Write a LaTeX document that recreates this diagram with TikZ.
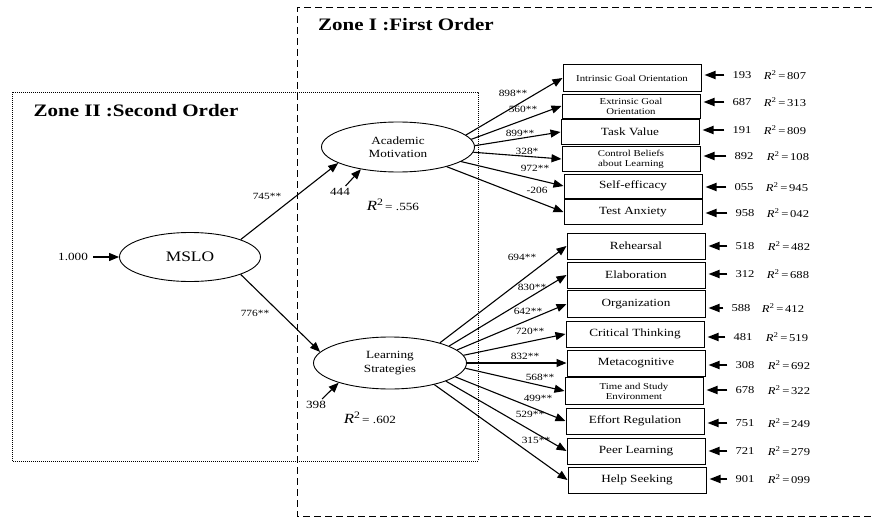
\documentclass[tikz,border=0pt]{standalone}
\usepackage{fontspec}
\setmainfont{Liberation Serif}[FakeStretch=1.2]
\usetikzlibrary{arrows.meta}
\usetikzlibrary{shapes.geometric}
\newcommand{\rsq}{\textit{R}\textsuperscript{2}}
\newcommand{\fsz}[1]{\fontsize{#1}{#1}\selectfont}

\begin{document}
\begin{tikzpicture}[x=1pt,y=-1pt,
  latent/.style={ellipse,draw,line width=0.9pt,minimum width=153pt,minimum height=50pt,inner sep=0pt,align=center,font=\fontsize{11}{13.5}\selectfont},
  obs/.style={rectangle,draw,line width=1pt,minimum width=138pt,minimum height=25pt,inner sep=0pt,align=center,font=\fsz{11}},
  twoline/.style={font=\fontsize{9}{10}\selectfont},
  pathlab/.style={font=\fsz{9.5},inner sep=0pt},
  errlab/.style={font=\fsz{10.5},inner sep=0pt},
  sem/.style={-{Triangle[length=10pt,width=8pt]},line width=1.1pt},
  errarrow/.style={-{Triangle[length=11pt,width=8pt]},line width=1.8pt,shorten <=8pt,shorten >=3pt},
  zone/.style={font=\bfseries\fsz{17.5},inner sep=0pt}]
\useasboundingbox (0,0) rectangle (872,519);

%zones
\draw[line width=1pt,dash pattern=on 7pt off 4pt] (872,8) -- (297,8) -- (297,516) -- (872,516);
\draw[line width=0.8pt,dash pattern=on 0.8pt off 1.2pt] (12,92) rectangle (478,461);
\node[zone] (zone1) at (406,25) {Zone I :First Order};
\node[zone] (zone2) at (136,111) {Zone II :Second Order};

%latent variables
\node[latent,minimum width=141pt,minimum height=49pt,font=\fsz{14.5}] (MSLO) at (190,257) {MSLO};
\node[latent] (AM) at (398,147) {Academic\\Motivation};
\node[latent,minimum height=52pt] (LS) at (390,363) {Learning\\Strategies};

\node[errlab,font=\fsz{11}] (e0) at (73,257) {1.000};
\draw[sem,shorten <=5pt] (e0) -- (MSLO);
\draw[sem] (MSLO.19) -- (AM.195);
\draw[sem] (MSLO.-19) -- (LS.171);
\node[pathlab] (m1) at (267,196) {745**};
\node[pathlab] (m2) at (255,313) {776**};

\node[errlab,font=\fsz{11}] (eAM) at (340,192) {444};
\draw[sem,shorten <=3pt] (eAM) -- (AM.211);
\node[inner sep=0pt] (rAM) at (393,205) {{\fsz{14}\rsq}\,{\fsz{11}= .556}};
\node[errlab,font=\fsz{11}] (eLS) at (316,405) {398};
\draw[sem,shorten <=3pt] (eLS) -- (LS.201);
\node[inner sep=0pt] (rLS) at (370,418) {{\fsz{14}\rsq}\,{\fsz{11}= .602}};

%first order: motivation
\node[obs,minimum height=27pt,twoline] (b1) at (632,78) {Intrinsic Goal Orientation};
\node[obs,minimum height=24pt,twoline] (b2) at (631,106) {Extrinsic Goal\\Orientation};
\node[obs] (b3) at (630,132) {Task Value};
\node[obs,twoline] (b4) at (631,159) {Control Beliefs\\about Learning};
\node[obs,minimum height=24pt] (b5) at (633,186) {Self-efficacy};
\node[obs] (b6) at (633,212) {Test Anxiety};

\draw[sem] (AM.10) -- (b1.west);
\draw[sem] (AM.6) -- (b2.west);
\draw[sem] (AM.1) -- (b3.west);
\draw[sem] (AM.-4) -- (b4.west);
\draw[sem] (AM.-13) -- (b5.west);
\draw[sem] (AM.-22) -- (b6.west);
\node[pathlab] (p1) at (513,93) {898**};
\node[pathlab] (p2) at (523,109) {560**};
\node[pathlab] (p3) at (520,133) {899**};
\node[pathlab] (p4) at (527,151) {328*};
\node[pathlab] (p5) at (535,168) {972**};
\node[pathlab] (p6) at (537,190) {-206};

%first order: strategies
\node[obs,minimum height=26pt] (b7) at (636,246) {Rehearsal};
\node[obs,minimum height=26pt] (b8) at (636,275) {Elaboration};
\node[obs,minimum height=27pt] (b9) at (636,304) {Organization};
\node[obs,minimum height=26pt] (b10) at (635,334) {Critical Thinking};
\node[obs,minimum height=26pt] (b11) at (636,363) {Metacognitive};
\node[obs,minimum height=27pt,twoline] (b12) at (634,391) {Time and Study\\Environment};
\node[obs,minimum height=26pt] (b13) at (635,421) {Effort Regulation};
\node[obs,minimum height=26pt] (b14) at (636,451) {Peer Learning};
\node[obs,minimum height=26pt] (b15) at (637,480) {Help Seeking};

\draw[sem] (LS.22) -- (b7.west);
\draw[sem] (LS.16) -- (b8.west);
\draw[sem] (LS.11) -- (b9.west);
\draw[sem] (LS.6) -- (b10.west);
\draw[sem] (LS.0) -- (b11.west);
\draw[sem] (LS.-4) -- (b12.west);
\draw[sem] (LS.-12) -- (b13.west);
\draw[sem] (LS.-18) -- (b14.west);
\draw[sem] (LS.-26) -- (b15.west);
\node[pathlab] (p7) at (522,257) {694**};
\node[pathlab] (p8) at (532,287) {830**};
\node[pathlab] (p9) at (528,311) {642**};
\node[pathlab] (p10) at (530,331) {720**};
\node[pathlab] (p11) at (525,356) {832**};
\node[pathlab] (p12) at (540,377) {568**};
\node[pathlab] (p13) at (538,398) {499**};
\node[pathlab] (p14) at (530,414) {529**};
\node[pathlab] (p15) at (536,440) {315**};

%errors and R2
\node[errlab] (v1) at (742,75) {193};  \node[errlab] (r1) at (785,75) {\rsq\,=\,807};
\node[errlab] (v2) at (742,102) {687}; \node[errlab] (r2) at (785,102) {\rsq\,=\,313};
\node[errlab] (v3) at (742,130) {191}; \node[errlab] (r3) at (785,130) {\rsq\,=\,809};
\node[errlab] (v4) at (744,156) {892}; \node[errlab] (r4) at (788,156) {\rsq\,=\,108};
\node[errlab] (v5) at (744,187) {055}; \node[errlab] (r5) at (787,187) {\rsq\,=\,945};
\node[errlab] (v6) at (745,213) {958}; \node[errlab] (r6) at (788,213) {\rsq\,=\,042};
\node[errlab] (v7) at (745,246) {518}; \node[errlab] (r7) at (789,246) {\rsq\,=\,482};
\node[errlab] (v8) at (745,274) {312}; \node[errlab] (r8) at (788,274) {\rsq\,=\,688};
\node[errlab] (v9) at (741,308) {588}; \node[errlab] (r9) at (783,308) {\rsq\,=\,412};
\node[errlab] (v10) at (743,337) {481}; \node[errlab] (r10) at (787,337) {\rsq\,=\,519};
\node[errlab] (v11) at (745,365) {308}; \node[errlab] (r11) at (789,365) {\rsq\,=\,692};
\node[errlab] (v12) at (745,390) {678}; \node[errlab] (r12) at (789,390) {\rsq\,=\,322};
\node[errlab] (v13) at (745,423) {751}; \node[errlab] (r13) at (789,423) {\rsq\,=\,249};
\node[errlab] (v14) at (745,451) {721}; \node[errlab] (r14) at (789,451) {\rsq\,=\,279};
\node[errlab] (v15) at (745,479) {901}; \node[errlab] (r15) at (789,479) {\rsq\,=\,099};

\draw[errarrow] (v1.west) -- (b1.east |- v1.west);
\draw[errarrow] (v2.west) -- (b2.east |- v2.west);
\draw[errarrow] (v3.west) -- (b3.east |- v3.west);
\draw[errarrow] (v4.west) -- (b4.east |- v4.west);
\draw[errarrow] (v5.west) -- (b5.east |- v5.west);
\draw[errarrow] (v6.west) -- (b6.east |- v6.west);
\draw[errarrow] (v7.west) -- (b7.east |- v7.west);
\draw[errarrow] (v8.west) -- (b8.east |- v8.west);
\draw[errarrow] (v9.west) -- (b9.east |- v9.west);
\draw[errarrow] (v10.west) -- (b10.east |- v10.west);
\draw[errarrow] (v11.west) -- (b11.east |- v11.west);
\draw[errarrow] (v12.west) -- (b12.east |- v12.west);
\draw[errarrow] (v13.west) -- (b13.east |- v13.west);
\draw[errarrow] (v14.west) -- (b14.east |- v14.west);
\draw[errarrow] (v15.west) -- (b15.east |- v15.west);
\end{tikzpicture}
\end{document}
